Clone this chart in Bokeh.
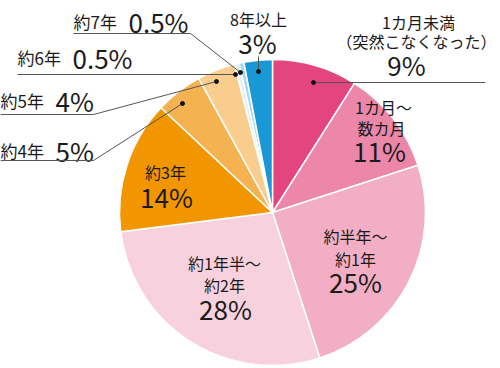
import math
from bokeh.plotting import figure
from bokeh.models import Range1d, ColumnDataSource
from bokeh.core.properties import value
from bokeh.embed import file_html
from bokeh.resources import INLINE

# ---- data ----
categories = ["1カ月未満（突然こなくなった）", "1カ月～数カ月", "約半年～約1年", "約1年半～約2年",
              "約3年", "約4年", "約5年", "約6年", "約7年", "8年以上"]
percents = [9, 11, 25, 28, 14, 5, 4, 0.5, 0.5, 3]
pct_labels = ["9%", "11%", "25%", "28%", "14%", "5%", "4%", "0.5%", "0.5%", "3%"]
colors = ["#E5457E", "#EC87A9", "#F2AEC4", "#F7D2DE", "#F29600",
          "#F5B251", "#F8CD8E", "#E3F1FA", "#A5D7F1", "#1A98D5"]

FONT = "Noto Sans CJK JP"
TXT = "#1a1a1a"

def Y(ry):
    return 368 - ry

p = figure(width=500, height=368, x_range=Range1d(0, 500), y_range=Range1d(0, 368),
           output_backend="svg", toolbar_location=None, min_border=0)
p.axis.visible = False
p.grid.visible = False
p.outline_line_color = None
p.background_fill_color = "white"

# ---- pie ----
cx, cy, r = 272, Y(212), 153
total = sum(percents)
starts, ends = [], []
cum = 0.0
for v in percents:
    starts.append(math.pi / 2 - 2 * math.pi * cum / total)
    cum += v
    ends.append(math.pi / 2 - 2 * math.pi * cum / total)
src = ColumnDataSource(dict(start=starts, end=ends, color=colors, cat=categories))
p.wedge(x=cx, y=cy, radius=r, radius_units="screen", start_angle="start", end_angle="end",
        direction="clock", fill_color="color", line_color="white", line_width=1.5, source=src)

def txt(x, y, t, size, align="center", weight="normal"):
    p.text(x=[x], y=[Y(y)], text=[t], text_font=value(FONT), text_font_size=size,
           text_align=align, text_baseline="middle", text_color=TXT, text_font_style=weight)

LBL = "16px"
SLBL = "17px"
PCT = "26px"

def pct(x, y, t, align="center"):
    txt(x, y, t, PCT, align)

# inside labels
txt(383, 106, "1カ月～", LBL); txt(381, 127, "数カ月", LBL); pct(379, 150, pct_labels[1])
txt(355, 235, "約半年～", LBL); txt(355, 258, "約1年", LBL); pct(355, 281, pct_labels[2])
txt(224, 262, "約1年半～", LBL); txt(224, 284, "約2年", LBL); pct(225, 308, pct_labels[3])
txt(165, 171, "約3年", LBL); pct(166, 196, pct_labels[4])

# outside labels
txt(418, 21, "1カ月未満", LBL); txt(416, 40, "（突然こなくなった）", LBL); pct(406, 64, pct_labels[0])
txt(258, 18, "8年以上", LBL); pct(257, 42, pct_labels[9])
txt(73, 21, "約7年", SLBL, "left"); pct(128, 21, pct_labels[8], "left")
txt(17, 57, "約6年", SLBL, "left"); pct(72, 57, pct_labels[7], "left")
txt(0, 100, "約5年", SLBL, "left"); pct(55, 100, pct_labels[6], "left")
txt(0, 150, "約4年", SLBL, "left"); pct(55, 150, pct_labels[5], "left")

# leader lines
LC = "#555555"
leaders = [
    ([313, 485], [82, 82]),
    ([258, 258], [56, 71]),
    ([73, 190, 240], [33, 33, 72]),
    ([17, 235], [74, 74]),
    ([0, 93, 216], [114, 114, 81]),
    ([0, 93, 182], [160, 160, 103]),
]
p.multi_line(xs=[l[0] for l in leaders], ys=[[Y(v) for v in l[1]] for l in leaders],
             line_color=LC, line_width=1)
dots_x = [313, 258, 240, 235, 216, 182]
dots_y = [82, 71, 72, 74, 81, 103]
p.scatter(x=dots_x, y=[Y(v) for v in dots_y], size=4, color="#111111")

open("out.html", "w").write(file_html(p, INLINE))
